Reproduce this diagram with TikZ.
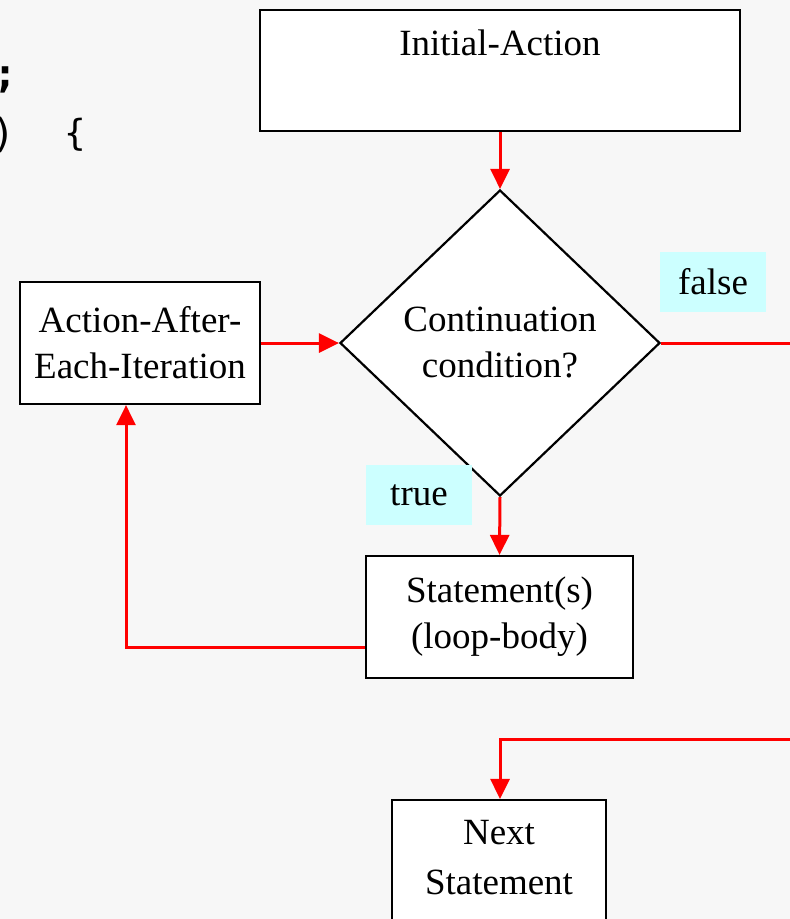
\documentclass[tikz,border=0pt]{standalone}
\usepackage{fontspec}
\setmainfont{Liberation Serif}
\newfontfamily\codefont{DejaVu Sans Mono}
\usetikzlibrary{shapes.geometric,arrows.meta}
\definecolor{paper}{HTML}{F7F7F7}
\definecolor{labelcyan}{HTML}{CCFFFF}
\definecolor{flowred}{HTML}{FF0000}
\begin{document}
\begin{tikzpicture}[x=1pt,y=-1pt,
  every node/.style={font=\fontsize{37}{46}\selectfont, align=center},
  stepbox/.style={draw=black, line width=2.2pt, fill=white, rectangle, inner sep=0pt},
  decision/.style={draw=black, line width=2.2pt, fill=white, diamond, aspect=1, inner sep=0pt,
    minimum width=320pt, minimum height=306pt},
  tag/.style={fill=labelcyan, inner sep=0pt, minimum width=106pt, minimum height=60pt},
  flow/.style={draw=flowred, line width=3pt},
  arr/.style={flow, -{Triangle[length=20pt,width=19pt]}},
  code/.style={font=\fontsize{40}{48}\selectfont\codefont, inner sep=0pt}
]
% page
\fill[paper] (0,0) rectangle (790,919);
\useasboundingbox (0,0) rectangle (790,919);

% fragments of source code at the left edge
\node[code, font=\fontsize{40}{48}\selectfont\codefont\bfseries] (semi) at (6,80) {;};
\node[code] (paren) at (4,135) {)};
\node[code, font=\fontsize{36}{44}\selectfont\codefont] (brace) at (75,135) {\{};

% boxes
\node[stepbox, minimum width=480pt, minimum height=121pt] (init) at (500,70.5)
  {Initial-Action\\[10pt]~};
\node[decision] (cond) at (500,343) {Continuation\\condition?};
\node[stepbox, minimum width=240pt, minimum height=122pt] (act) at (140,343)
  {Action-After-\\Each-Iteration};
\node[stepbox, minimum width=267pt, minimum height=122pt] (stmt) at (499.5,617)
  {Statement(s)\\(loop-body)};
\node[stepbox, minimum width=214pt, minimum height=124pt] (next) at (499,862)
  {Next\\[4pt]Statement\\[-36pt]~};

% branch labels
\node[tag] (false) at (713,282) {false};
\node[tag] (true) at (419,495) {true};

% connectors
\coordinate (exitA) at (795,343);
\coordinate (exitB) at (795,739);
\draw[arr] (init.south) -- (cond.north);
\draw[arr] (act.east) -- (cond.west);
\draw[arr] (cond.south) -- (stmt.north);
\draw[arr] ([yshift=-30pt]stmt.west) -| ([xshift=-14pt]act.south);
\draw[flow] (cond.east) -- (exitA);
\draw[arr] (exitB) -| ([xshift=1pt]next.north);
\end{tikzpicture}
\end{document}
